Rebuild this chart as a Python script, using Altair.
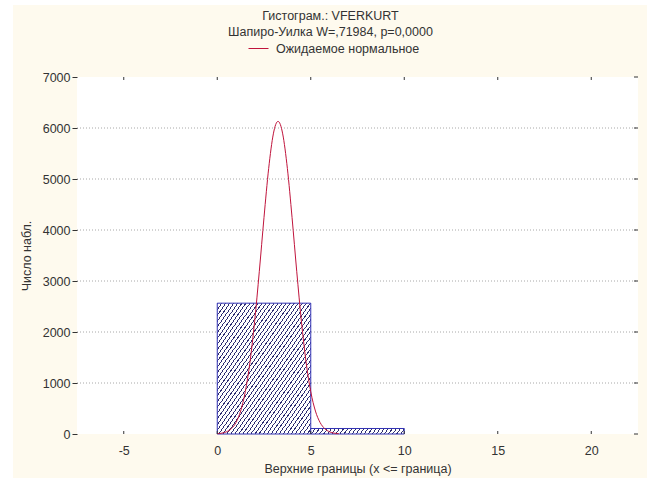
import math
import altair as alt
import pandas as pd

# ---------------- data ----------------
bin_lo = [0, 5]
bin_hi = [5, 10]
counts = [2565, 108]

curve_x = [0, 0.25, 0.5, 0.75, 1.0, 1.25, 1.5, 1.75, 2.0, 2.25, 2.5, 2.75, 3.0,
           3.125, 3.25, 3.375, 3.5, 3.75, 4.0, 4.25, 4.5, 4.75, 5.0, 5.25, 5.5,
           5.75, 6.0, 6.25, 6.5]
curve_y = [6, 17, 44, 104, 225, 450, 830, 1410, 2210, 3190, 4246, 5207, 5885,
           6068, 6130, 6068, 5885, 5207, 4246, 3190, 2210, 1410, 830, 450, 225,
           104, 44, 17, 6]

x_ticks = [-5, 0, 5, 10, 15, 20]
y_ticks = [0, 1000, 2000, 3000, 4000, 5000, 6000, 7000]

title_lines = ["Гистограм.: VFERKURT", "Шапиро-Уилка W=,71984, p=0,0000"]
legend_name = "Ожидаемое нормальное"
x_title = "Верхние границы (x <= граница)"
y_title = "Число набл."

# ---------------- layout / style ----------------
W, H = 561, 357
XMIN, XMAX = -7.5, 22.5
YMAX = 7000
FONT = "Liberation Sans"
FS = 12.5
TXT = "#333333"
CREAM = "#FEFAEE"
CURVE = "#C0143C"
BAR_STROKE = "#3232B4"
HATCH = "#2E2E72"

bars = pd.DataFrame({"lo": bin_lo, "hi": bin_hi, "count": counts})
curve = pd.DataFrame({"cx": curve_x, "cy": curve_y, "series": [legend_name] * len(curve_x)})
xt = pd.DataFrame({"t": x_ticks})
yt = pd.DataFrame({"t": y_ticks})
grid = pd.DataFrame({"t": y_ticks[1:-1]})

xscale = alt.Scale(domain=[XMIN, XMAX], nice=False, zero=False)
yscale = alt.Scale(domain=[0, YMAX], nice=False)

xaxis = alt.Axis(values=x_ticks, title=x_title, tickSize=0, domain=False, grid=False,
                 labelPadding=10, titlePadding=6, labelFont=FONT, titleFont=FONT,
                 labelFontSize=FS, titleFontSize=FS, titleFontWeight="normal",
                 labelColor=TXT, titleColor=TXT, zindex=1,
                 labelExpr="toString(datum.value)")
yaxis = alt.Axis(values=y_ticks, title=y_title, tickSize=5, tickColor=TXT, domain=False,
                 grid=False, labelPadding=2, titlePadding=9, labelFont=FONT,
                 titleFont=FONT, labelFontSize=FS, titleFontSize=FS,
                 titleFontWeight="normal", labelColor=TXT, titleColor=TXT, zindex=1,
                 labelExpr="toString(datum.value)")


def X(field):
    return alt.X(field, type="quantitative", scale=xscale, axis=xaxis)


def Y(field):
    return alt.Y(field, type="quantitative", scale=yscale, axis=yaxis)


def hatch(w, h, angle=55.0, period=3.3, frac=0.26, dark=HATCH, light="#FFFFFF"):
    s = math.sin(math.radians(angle))
    c = math.cos(math.radians(angle))
    L = w * s + h * c
    k = L / (w * w * s * s + h * h * c * c)
    a, b = k * w * s, k * h * c
    n = max(1, round(L / period))
    stops = []
    for i in range(n):
        o0 = round(i / n, 5)
        o1 = round((i + frac) / n, 5)
        o2 = round((i + 1) / n, 5)
        stops += [alt.GradientStop(offset=o0, color=dark),
                  alt.GradientStop(offset=o1, color=dark),
                  alt.GradientStop(offset=o1, color=light),
                  alt.GradientStop(offset=o2, color=light)]
    return alt.LinearGradient(gradient="linear", stops=stops, x1=0, y1=0,
                              x2=round(a, 5), y2=round(b, 5))


# backgrounds
bg = alt.Chart(xt).mark_rect(color=CREAM).encode(
    x=alt.value(-64), x2=alt.value(570), y=alt.value(-72), y2=alt.value(401))
plot_bg = alt.Chart(xt).mark_rect(color="#FFFFFF").encode(
    x=alt.value(0), x2=alt.value(W), y=alt.value(0), y2=alt.value(H))

grid_layer = alt.Chart(grid).mark_rule(color="#A8A8A8", strokeDash=[1, 2], strokeWidth=1).encode(
    y=Y("t"), x=alt.value(0), x2=alt.value(W))

bar_layers = []
for lo, hi, cnt in zip(bin_lo, bin_hi, counts):
    wpx = (hi - lo) * W / (XMAX - XMIN)
    hpx = cnt * H / YMAX
    bar_layers.append(
        alt.Chart(bars).transform_filter(alt.datum.lo == lo).mark_rect(
            fill=hatch(wpx, hpx), stroke=BAR_STROKE, strokeWidth=1
        ).encode(x=X("lo"), x2="hi", y=Y("count"), y2=alt.datum(0))
    )

curve_layer = alt.Chart(curve).mark_line(strokeWidth=1, interpolate="monotone").encode(
    x=X("cx"), y=Y("cy"),
    color=alt.Color("series:N",
                    scale=alt.Scale(domain=[legend_name], range=[CURVE]),
                    legend=alt.Legend(orient="none", legendX=171, legendY=-39, title=None,
                                      symbolType="stroke", symbolSize=400,
                                      symbolStrokeWidth=1, labelFontSize=FS,
                                      labelFont=FONT, labelColor=TXT, padding=0,
                                      labelOffset=7)))

top_ticks = alt.Chart(xt).mark_rule(color=TXT).encode(x=X("t"), y=alt.value(0), y2=alt.value(3))
bot_ticks = alt.Chart(xt).mark_rule(color=TXT).encode(x=X("t"), y=alt.value(H - 3), y2=alt.value(H))
right_ticks = alt.Chart(yt).mark_rule(color=TXT).encode(y=Y("t"), x=alt.value(W - 4), x2=alt.value(W))

chart = alt.layer(bg, plot_bg, grid_layer, *bar_layers, curve_layer,
                  top_ticks, bot_ticks, right_ticks).properties(
    width=W, height=H,
    title=alt.TitleParams(text=title_lines, font=FONT, fontSize=FS, fontWeight="normal",
                          color=TXT, anchor="middle", dx=-27, offset=0, dy=33,
                          lineHeight=16),
    autosize=alt.AutoSizeParams(type="none"),
    padding={"left": 77, "top": 77, "right": 18, "bottom": 47},
    background="#FFFFFF",
).configure_view(stroke="#333333", strokeWidth=1)

chart.save("out.html", embed_options={"renderer": "svg", "actions": False})
